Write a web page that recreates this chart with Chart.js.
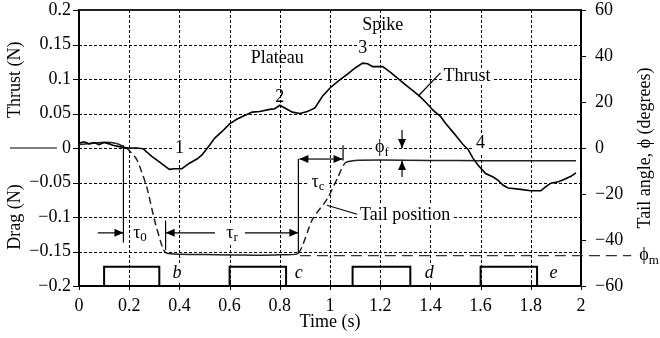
<!DOCTYPE html>
<html><head><meta charset="utf-8">
<script src="https://cdn.jsdelivr.net/npm/chart.js@4"></script>
<style>html,body{margin:0;padding:0;background:#fff}#wrap{width:660px;height:338px}</style>
</head><body><div id="wrap"><canvas id="c" width="660" height="338"></canvas></div>
<script>
// ---- data ----
const timeThrust = [0,0.02,0.04,0.06,0.08,0.1,0.12,0.135,0.16,0.195,0.23,0.255,0.29,0.32,0.345,0.36,0.38,0.41,0.44,0.47,0.49,0.52,0.54,0.57,0.60,0.63,0.66,0.69,0.72,0.76,0.78,0.80,0.82,0.85,0.88,0.91,0.94,0.97,1.00,1.04,1.07,1.10,1.13,1.15,1.17,1.21,1.24,1.27,1.30,1.33,1.36,1.39,1.41,1.44,1.46,1.49,1.51,1.53,1.55,1.57,1.59,1.62,1.65,1.67,1.69,1.71,1.76,1.80,1.84,1.86,1.88,1.91,1.93,1.96,1.98];
const thrustN = [0.007,0.009,0.006,0.008,0.005,0.008,0.006,0.004,0.002,0.0,0.0,-0.001,-0.012,-0.020,-0.027,-0.031,-0.030,-0.030,-0.022,-0.016,-0.010,0.004,0.014,0.024,0.035,0.042,0.047,0.052,0.053,0.056,0.057,0.062,0.058,0.052,0.050,0.053,0.058,0.075,0.087,0.099,0.107,0.116,0.123,0.122,0.118,0.118,0.110,0.101,0.092,0.083,0.074,0.063,0.055,0.046,0.036,0.023,0.014,0.005,-0.002,-0.015,-0.025,-0.037,-0.042,-0.047,-0.054,-0.058,-0.060,-0.062,-0.062,-0.056,-0.051,-0.049,-0.046,-0.041,-0.036];
const timeTail = [0,0.05,0.1,0.15,0.18,0.19,0.23,0.27,0.30,0.335,0.35,0.4,0.5,0.6,0.7,0.8,0.874,0.93,0.99,1.03,1.06,1.1,1.2,1.4,1.6,1.8,1.98];
const tailDeg = [1.5,2.0,2.5,2.0,0.5,0,-5,-17,-31,-44,-45.8,-46.2,-46.3,-46.5,-46.6,-46.4,-45.8,-31,-22,-13,-6.5,-5.4,-5.2,-5.4,-5.5,-5.5,-5.5];
const pulseStart = [0.1,0.6,1.09,1.6];
const pulseEnd = [0.32,0.825,1.32,1.825];
const pulseTop = -0.172;
const pulseBase = -0.2;
const phiM = -46.8;
const phiMFrom = 0.88, phiMTo = 2.2;
const xTickLabels = ['0','0.2','0.4','0.6','0.8','1','1.2','1.4','1.6','1.8','2'];
const yLeftTickLabels = ['\u22120.2','\u22120.15','\u22120.1','\u22120.05','0','0.05','0.1','0.15','0.2'];
const yRightTickLabels = ['\u221260','\u221240','\u221220','0','20','40','60'];

// ---- build datasets from arrays ----
const thrustPts = timeThrust.map((t,i)=>({x:t,y:thrustN[i]}));
const tailPts = timeTail.map((t,i)=>({x:t,y:tailDeg[i]}));
const pulsePts = [];
pulseStart.forEach((s,i)=>{
  pulsePts.push({x:s,y:pulseBase},{x:s,y:pulseTop},{x:pulseEnd[i],y:pulseTop},{x:pulseEnd[i],y:pulseBase},{x:pulseEnd[i],y:null});
});
const phiMPts = [{x:phiMFrom,y:phiM},{x:phiMTo,y:phiM}];

// ---- annotations (data coordinates) ----
const FONT = '"Liberation Serif","Times New Roman",serif';
const notes = [
  {text:'1',t:0.40,v:0.0,bg:true},
  {text:'2',t:0.80,v:0.074},
  {text:'3',t:1.13,v:0.145,bg:true},
  {text:'4',t:1.60,v:0.007,bg:true},
  {text:'Plateau',t:0.79,v:0.130},
  {text:'Spike',t:1.21,v:0.178},
  {text:'Thrust',t:1.546,v:0.104,bg:true},
  {text:'Tail position',t:1.12,v:-0.097,align:'left',bg:true},
  {text:'\u03C4',sub:'0',t:0.243,v:-0.123},
  {text:'\u03C4',sub:'r',t:0.61,v:-0.123,bg:true},
  {text:'\u03C4',sub:'c',t:0.952,v:-0.049,bg:true},
  {text:'\u03D5',sub:'f',t:1.207,v:0.001,bg:true},
  {text:'b',t:0.39,v:-0.181,italic:true,bg:true},
  {text:'c',t:0.875,v:-0.181,italic:true,bg:true},
  {text:'d',t:1.395,v:-0.181,italic:true,bg:true},
  {text:'e',t:1.89,v:-0.181,italic:true,bg:true},
];
const segs = [
  {a:[0.177,0.004],b:[0.177,-0.137]},
  {a:[0.075,-0.123],b:[0.177,-0.123],head:true},
  {a:[0.345,-0.105],b:[0.345,-0.148]},
  {a:[0.542,-0.123],b:[0.345,-0.123],head:true},
  {a:[0.661,-0.123],b:[0.874,-0.123],head:true},
  {a:[0.874,-0.152],b:[0.874,-0.016]},
  {a:[0.96,-0.016],b:[0.878,-0.016],head:true},
  {a:[0.96,-0.016],b:[1.05,-0.016],head:true},
  {a:[1.052,0.004],b:[1.052,-0.018]},
  {a:[1.287,0.026],b:[1.287,0.0],head:true},
  {a:[1.287,-0.042],b:[1.287,-0.019],head:true},
  {a:[1.44,0.109],b:[1.351,0.075]},
  {a:[1.108,-0.096],b:[0.988,-0.083]},
];

function noteFont(n){ return (n.italic?'italic ':'')+'18px '+FONT; }
function noteBox(ctx, chart, n){
  ctx.font = noteFont(n);
  let w = ctx.measureText(n.text).width;
  if (n.sub){ ctx.font = '13px '+FONT; w += ctx.measureText(n.sub).width; }
  const x = chart.scales.x.getPixelForValue(n.t);
  const y = chart.scales.y.getPixelForValue(n.v);
  const left = n.align==='left' ? x : x - w/2;
  return {left, y, w};
}
function arrowHead(ctx,x1,y1,x2,y2){
  const a=Math.atan2(y2-y1,x2-x1), len=9, half=4;
  ctx.beginPath(); ctx.moveTo(x2,y2);
  ctx.lineTo(x2-len*Math.cos(a)+half*Math.sin(a), y2-len*Math.sin(a)-half*Math.cos(a));
  ctx.lineTo(x2-len*Math.cos(a)-half*Math.sin(a), y2-len*Math.sin(a)+half*Math.cos(a));
  ctx.closePath(); ctx.fill();
}
function noPad(s){ s.paddingTop=0; s.paddingBottom=0; s.paddingLeft=0; s.paddingRight=0; }

const deco = {
  id:'deco',
  afterDraw(chart){
    const ctx = chart.ctx, xs = chart.scales.x, ys = chart.scales.y, y2s = chart.scales.y2, ca = chart.chartArea;
    const L = Math.round(ca.left), R = Math.round(ca.right), T = Math.round(ca.top), B = Math.round(ca.bottom);
    // boxes kept free of grid dots
    const boxes = notes.filter(n=>n.bg).map(n=>{ const b=noteBox(ctx,chart,n); return [b.left-2,b.y-9,b.left+b.w+2,b.y+9]; });
    const free = (x,y)=>!boxes.some(b=>x>=b[0]&&x<=b[2]&&y>=b[1]&&y<=b[3]);
    ctx.save();
    ctx.setLineDash([]);
    ctx.globalAlpha = 1;
    ctx.globalCompositeOperation = 'source-over';
    ctx.fillStyle = '#000';
    // dotted grid drawn as small filled dashes at the scales' tick positions
    const nx = xTickLabels.length, ny = yLeftTickLabels.length;
    for (let i=1;i<nx-1;i++){
      const x = Math.round(xs.getPixelForValue(xs.min + i*(xs.max-xs.min)/(nx-1)));
      for (let y=T; y<B; y+=5){ if (free(x,y+1)) ctx.fillRect(x, y, 1, 3); }
    }
    for (let j=1;j<ny-1;j++){
      const y = Math.round(ys.getPixelForValue(ys.min + j*(ys.max-ys.min)/(ny-1)));
      for (let x=L; x<R; x+=5){ if (free(x+1,y)) ctx.fillRect(x, y, 3, 1); }
    }
    // top frame
    ctx.fillStyle = '#222';
    ctx.fillRect(L, T-1, R-L, 2);
    // tick marks
    ctx.fillStyle = '#000';
    for (let j=0;j<ny;j++){ const y=Math.round(ys.getPixelForValue(ys.min + j*(ys.max-ys.min)/(ny-1))); ctx.fillRect(L-6, y, 6, 1); }
    const n2 = yRightTickLabels.length;
    for (let j=0;j<n2;j++){ const y=Math.round(y2s.getPixelForValue(y2s.min + j*(y2s.max-y2s.min)/(n2-1))); ctx.fillRect(R, y, 5, 1); }
    for (let i=0;i<nx;i++){ const x=Math.round(xs.getPixelForValue(xs.min + i*(xs.max-xs.min)/(nx-1))); ctx.fillRect(x, B-3, 1, 7); }
    // dimension lines & leaders
    ctx.strokeStyle = '#000'; ctx.lineWidth = 1.2;
    segs.forEach(s=>{
      const x1=xs.getPixelForValue(s.a[0]), y1=ys.getPixelForValue(s.a[1]);
      const x2=xs.getPixelForValue(s.b[0]), y2=ys.getPixelForValue(s.b[1]);
      ctx.beginPath(); ctx.moveTo(x1,y1); ctx.lineTo(x2,y2); ctx.stroke();
      if (s.head) arrowHead(ctx,x1,y1,x2,y2);
    });
    const y0 = ys.getPixelForValue(0);
    ctx.lineWidth = 1;
    ctx.beginPath(); ctx.moveTo(ca.left-69,y0); ctx.lineTo(ca.left-22,y0); ctx.stroke();
    // notes
    ctx.textBaseline = 'middle';
    notes.forEach(n=>{
      const b = noteBox(ctx,chart,n);
      ctx.font = noteFont(n); ctx.textAlign='left';
      ctx.fillText(n.text,b.left,b.y);
      if (n.sub){ const w0=ctx.measureText(n.text).width; ctx.font='13px '+FONT; ctx.fillText(n.sub,b.left+w0,b.y+5); }
    });
    const ym = y2s.getPixelForValue(phiM);
    const xm = xs.getPixelForValue(phiMTo)+8;
    ctx.font = '18px '+FONT; ctx.fillText('\u03D5', xm, ym);
    const wphi = ctx.measureText('\u03D5').width;
    ctx.font = '13px '+FONT; ctx.fillText('m', xm+wphi, ym+5);
    // axis titles (rotated, reading bottom to top)
    ctx.font = '18px '+FONT; ctx.textAlign='center';
    const drawRot=(txt,x,y)=>{ ctx.save(); ctx.translate(x,y); ctx.rotate(-Math.PI/2); ctx.fillText(txt,0,0); ctx.restore(); };
    drawRot('Thrust (N)', 15, ys.getPixelForValue(0.099));
    drawRot('Drag (N)', 15, ys.getPixelForValue(-0.1));
    drawRot('Tail angle, \u03D5 (degrees)', 645, (ca.top+ca.bottom)/2);
    ctx.fillText('Time (s)', (ca.left+ca.right)/2, 322);
    ctx.restore();
  }
};

Chart.defaults.font.family = FONT;
Chart.defaults.font.size = 18;
Chart.defaults.color = '#000';

new Chart(document.getElementById('c'), {
  type:'line',
  data:{ datasets:[
    {label:'Thrust', data:thrustPts, yAxisID:'y', borderColor:'#000', borderWidth:1.6, pointRadius:0, tension:0},
    {label:'Tail position', data:tailPts, yAxisID:'y2', borderColor:'#222', borderWidth:1.5, pointRadius:0, tension:0.2,
      segment:{ borderDash: c => Math.abs((c.p1.parsed.y-c.p0.parsed.y)/(c.p1.parsed.x-c.p0.parsed.x))>40 ? [7,4] : undefined }},
    {label:'Pulses', data:pulsePts, yAxisID:'y', borderColor:'#000', borderWidth:2, pointRadius:0, tension:0, spanGaps:false, clip:false},
    {label:'phi_m', data:phiMPts, yAxisID:'y2', borderColor:'#333', borderWidth:1.3, borderDash:[11,6], pointRadius:0, clip:false},
  ]},
  options:{
    responsive:false, animation:false, devicePixelRatio:1,
    layout:{padding:{top:10}},
    plugins:{legend:{display:false}, tooltip:{enabled:false}},
    scales:{
      x:{type:'linear', min:0, max:2,
        ticks:{stepSize:0.2, padding:5, callback:(v,i)=>xTickLabels[i], maxRotation:0, autoSkip:false},
        grid:{drawOnChartArea:false, color:'rgba(0,0,0,0)', tickLength:4},
        border:{display:true, color:'#000', width:2},
        afterFit:s=>{s.height=52; noPad(s);}},
      y:{type:'linear', position:'left', min:-0.2, max:0.2,
        ticks:{stepSize:0.05, padding:2, callback:(v,i)=>yLeftTickLabels[i], autoSkip:false},
        grid:{drawOnChartArea:false, color:'rgba(0,0,0,0)', tickLength:6},
        border:{display:true, color:'#000', width:2},
        afterFit:s=>{s.width=79; noPad(s);}},
      y2:{type:'linear', position:'right', min:-60, max:60,
        ticks:{stepSize:20, padding:10, callback:(v,i)=>yRightTickLabels[i], autoSkip:false},
        grid:{drawOnChartArea:false, color:'rgba(0,0,0,0)', tickLength:4},
        border:{display:true, color:'#000', width:2},
        afterFit:s=>{s.width=79; noPad(s);}}
    }
  },
  plugins:[deco]
});
</script></body></html>
